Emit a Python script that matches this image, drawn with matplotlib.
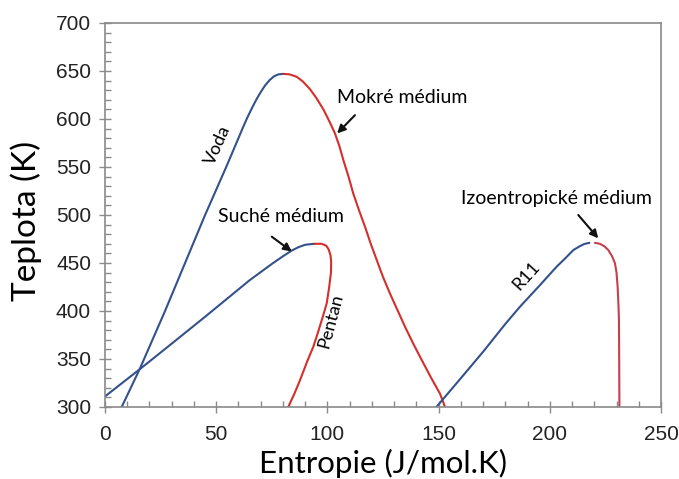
import matplotlib
matplotlib.use("Agg")
import matplotlib.pyplot as plt
from matplotlib.ticker import MultipleLocator

# --- data ---
water_liq_s = [7.5, 15.7, 27, 36, 45, 54.5, 60, 62, 64, 66, 68, 70, 72, 74, 76, 78, 80.2]
water_liq_T = [300, 340, 400, 450, 500, 550, 580, 591, 601.5, 611, 620, 628, 635, 640.5,
               644.5, 646.5, 647]
water_vap_s = [80.2, 83, 86.2, 89, 92.2, 95, 98.2, 101, 103.4, 105.5, 107.2, 109.5, 111.6,
               114.2, 116.9, 119.5, 122.2, 125, 128.1, 131.5, 134.9, 138.6, 142.4, 146.5,
               150.6, 152.9]
water_vap_T = [647, 646.5, 644, 639, 631, 622, 610, 597, 585, 571, 557, 540, 522.6,
               505, 487.8, 470, 453, 435.5, 418.4, 401, 383.6, 366, 349, 331,
               314, 300]

pent_liq_s = [0, 15.7, 30, 45, 65, 75, 80, 84, 87, 90, 94]
pent_liq_T = [311, 339.5, 366, 394, 432, 449, 457, 463, 466.5, 469, 470]
pent_vap_s = [94, 97.4, 99.5, 100.6, 101.4, 101.7, 101.6, 100.8, 99.7, 97.8, 95.8, 93.7,
              91, 87.7, 85, 82.4]
pent_vap_T = [470, 470, 468, 464, 458, 451, 440, 425, 408, 393, 378, 363,
              348, 328, 313, 300]

r11_liq_s = [149, 160, 170, 180, 186.6, 195.6, 203, 207, 210.6, 213.5, 215.5, 217.8]
r11_liq_T = [300, 330, 357.5, 386.5, 404.5, 427, 446, 455, 463.5, 467.5, 469.8, 471]
r11_vap_s = [220.3, 222.5, 224.5, 226.3, 228, 229.3, 230, 230.5, 230.9, 231.1, 231.2, 231.3]
r11_vap_T = [471, 470, 467.5, 463.5, 457, 449.7, 440, 425, 405, 390, 350, 300]

x_ticks = [0, 50, 100, 150, 200, 250]
y_ticks = [300, 350, 400, 450, 500, 550, 600, 650, 700]

BLUE = "#33528c"
RED = "#d42f2c"
RED2 = "#c4404c"
GRAY = "#8a8a8a"
TXT = "Lato"

fig = plt.figure(figsize=(6.79, 4.79), dpi=100)
ax = fig.add_axes([105 / 679, 1 - 407 / 479, 556 / 679, 384 / 479])

lw = 1.5
kw = dict(lw=lw, solid_capstyle="round", solid_joinstyle="round")
ax.plot(water_liq_s, water_liq_T, color=BLUE, **kw)
ax.plot(water_vap_s, water_vap_T, color=RED, **kw)
ax.plot(pent_liq_s, pent_liq_T, color=BLUE, **kw)
ax.plot(pent_vap_s, pent_vap_T, color=RED, **kw)
ax.plot(r11_liq_s, r11_liq_T, color=BLUE, **kw)
ax.plot(r11_vap_s, r11_vap_T, color=RED2, **kw)

ax.set_xlim(0, 250)
ax.set_ylim(300, 700)
ax.set_xticks(x_ticks)
ax.set_yticks(y_ticks)
ax.xaxis.set_minor_locator(MultipleLocator(10))
ax.yaxis.set_minor_locator(MultipleLocator(10))
ax.tick_params(which="major", direction="inout", length=8, width=1, color=GRAY,
               labelsize=15, pad=6)
ax.tick_params(which="minor", direction="in", length=4, width=1, color=GRAY)
ax.tick_params(axis="x", which="major", pad=9)
for lab in ax.get_xticklabels() + ax.get_yticklabels():
    lab.set_fontfamily("Liberation Sans")
    lab.set_color("#222222")
for sp in ax.spines.values():
    sp.set_color(GRAY)
    sp.set_linewidth(1.2)

fig.text(383 / 679, 1 - 473 / 479, "Entropie (J/mol.K)", fontsize=22.5, family=TXT,
         ha="center", va="baseline")
fig.text(26 / 679, 1 - 221 / 479, "Teplota (K)", fontsize=24, family=TXT,
         ha="center", va="center", rotation=90)

fs = 14
ax.text(50.8, 573, "Voda", rotation=66, ha="center", va="center", fontsize=fs - 1, family=TXT)
ax.text(101.6, 389.6, "Pentan", rotation=75, ha="center", va="center", fontsize=fs - 1, family=TXT)
ax.text(189.3, 436.5, "R11", rotation=48, ha="center", va="center", fontsize=fs - 1, family=TXT)

arrow = dict(arrowstyle="-|>", color="#111111", lw=1.5, mutation_scale=12,
             shrinkA=0, shrinkB=0)
ax.text(133.8, 622.4, "Mokré médium", ha="center", va="center", fontsize=fs, family=TXT)
ax.annotate("", xy=(104.4, 585), xytext=(112.4, 604), arrowprops=arrow)
ax.text(78.9, 498.4, "Suché médium", ha="center", va="center", fontsize=fs, family=TXT)
ax.annotate("", xy=(84, 462), xytext=(75, 477.4), arrowprops=arrow)
ax.text(203, 517, "Izoentropické médium", ha="center", va="center", fontsize=fs, family=TXT)
ax.annotate("", xy=(221.8, 475.7), xytext=(212.8, 500), arrowprops=arrow)

fig.savefig("out.png", dpi=100)
